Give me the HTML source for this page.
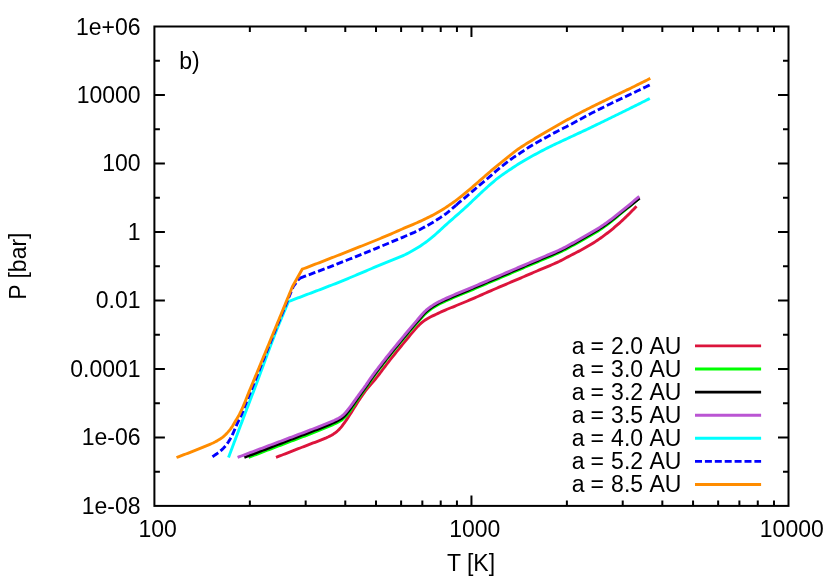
<!DOCTYPE html>
<html><head><meta charset="utf-8"><title>P-T profiles</title>
<style>html,body{margin:0;padding:0;background:#fff;}body{width:830px;height:580px;overflow:hidden;font-family:"Liberation Sans",sans-serif;}</style>
</head><body>
<svg width="830" height="580" viewBox="0 0 830 580" style="display:block;will-change:transform">
<rect x="0" y="0" width="830" height="580" fill="#fff"/>
<path d="M154.4 471.66h5.5M788.5 471.66h-5.5M154.4 437.41h10.5M788.5 437.41h-10.5M154.4 403.17h5.5M788.5 403.17h-5.5M154.4 368.93h10.5M788.5 368.93h-10.5M154.4 334.69h5.5M788.5 334.69h-5.5M154.4 300.44h10.5M788.5 300.44h-10.5M154.4 266.20h5.5M788.5 266.20h-5.5M154.4 231.96h10.5M788.5 231.96h-10.5M154.4 197.71h5.5M788.5 197.71h-5.5M154.4 163.47h10.5M788.5 163.47h-10.5M154.4 129.23h5.5M788.5 129.23h-5.5M154.4 94.99h10.5M788.5 94.99h-10.5M154.4 60.74h5.5M788.5 60.74h-5.5M249.84 505.9v-5.5M249.84 26.5v5.5M305.67 505.9v-5.5M305.67 26.5v5.5M345.28 505.9v-5.5M345.28 26.5v5.5M376.01 505.9v-5.5M376.01 26.5v5.5M401.11 505.9v-5.5M401.11 26.5v5.5M422.34 505.9v-5.5M422.34 26.5v5.5M440.72 505.9v-5.5M440.72 26.5v5.5M456.94 505.9v-5.5M456.94 26.5v5.5M471.45 505.9v-10.5M471.45 26.5v10.5M566.89 505.9v-5.5M566.89 26.5v5.5M622.72 505.9v-5.5M622.72 26.5v5.5M662.33 505.9v-5.5M662.33 26.5v5.5M693.06 505.9v-5.5M693.06 26.5v5.5M718.16 505.9v-5.5M718.16 26.5v5.5M739.39 505.9v-5.5M739.39 26.5v5.5M757.77 505.9v-5.5M757.77 26.5v5.5M773.99 505.9v-5.5M773.99 26.5v5.5" stroke="#000" stroke-width="2.0" fill="none"/>
<path d="M276.00 457.40 L277.86 456.68 L279.72 455.95 L281.58 455.23 L283.44 454.50 L285.29 453.78 L287.15 453.05 L289.01 452.32 L290.87 451.60 L292.73 450.87 L294.58 450.15 L296.44 449.42 L298.30 448.70 L300.16 447.98 L302.02 447.26 L303.88 446.54 L305.74 445.82 L307.60 445.10 L309.47 444.39 L311.33 443.67 L313.20 442.98 L315.07 442.28 L316.94 441.59 L318.80 440.88 L320.65 440.13 L322.51 439.38 L324.35 438.61 L326.19 437.82 L328.00 436.99 L329.78 436.11 L331.55 435.17 L333.28 434.16 L334.93 433.05 L336.50 431.83 L338.00 430.50 L339.43 429.10 L340.77 427.64 L342.02 426.09 L343.22 424.49 L344.39 422.86 L345.54 421.23 L346.67 419.59 L347.78 417.93 L348.87 416.25 L349.95 414.58 L351.02 412.90 L352.08 411.20 L353.13 409.51 L354.18 407.81 L355.24 406.12 L356.30 404.43 L357.37 402.75 L358.45 401.07 L359.54 399.40 L360.64 397.74 L361.76 396.08 L362.89 394.44 L364.04 392.81 L365.22 391.20 L366.44 389.63 L367.70 388.08 L368.97 386.54 L370.25 385.00 L371.55 383.49 L372.87 381.99 L374.17 380.49 L375.45 378.95 L376.70 377.40 L377.93 375.84 L379.16 374.26 L380.37 372.68 L381.57 371.08 L382.77 369.49 L383.97 367.89 L385.17 366.30 L386.37 364.70 L387.58 363.12 L388.80 361.54 L390.03 359.96 L391.27 358.40 L392.51 356.84 L393.75 355.28 L395.00 353.72 L396.25 352.17 L397.50 350.62 L398.76 349.07 L400.02 347.52 L401.28 345.98 L402.55 344.43 L403.81 342.89 L405.08 341.35 L406.35 339.81 L407.62 338.27 L408.89 336.73 L410.16 335.19 L411.43 333.66 L412.72 332.13 L414.03 330.62 L415.35 329.13 L416.68 327.63 L418.02 326.14 L419.40 324.69 L420.84 323.34 L422.37 322.08 L423.98 320.89 L425.64 319.76 L427.33 318.70 L429.05 317.71 L430.82 316.79 L432.63 315.92 L434.43 315.07 L436.23 314.21 L438.04 313.36 L439.85 312.51 L441.66 311.68 L443.48 310.87 L445.31 310.07 L447.14 309.29 L448.99 308.53 L450.84 307.78 L452.69 307.04 L454.54 306.29 L456.39 305.53 L458.23 304.78 L460.08 304.03 L461.93 303.27 L463.77 302.51 L465.61 301.74 L467.45 300.97 L469.29 300.19 L471.12 299.40 L472.95 298.61 L474.78 297.81 L476.61 297.01 L478.43 296.21 L480.25 295.39 L482.07 294.57 L483.89 293.76 L485.72 292.96 L487.55 292.16 L489.38 291.37 L491.21 290.58 L493.04 289.79 L494.88 289.00 L496.71 288.21 L498.54 287.43 L500.37 286.64 L502.21 285.85 L504.04 285.07 L505.88 284.29 L507.72 283.51 L509.55 282.73 L511.39 281.96 L513.23 281.18 L515.06 280.40 L516.90 279.62 L518.74 278.84 L520.57 278.06 L522.40 277.27 L524.24 276.48 L526.07 275.70 L527.90 274.91 L529.73 274.12 L531.57 273.33 L533.40 272.54 L535.23 271.75 L537.06 270.96 L538.90 270.17 L540.73 269.39 L542.57 268.61 L544.41 267.84 L546.26 267.08 L548.10 266.32 L549.94 265.55 L551.78 264.77 L553.61 263.98 L555.44 263.18 L557.25 262.35 L559.05 261.50 L560.83 260.61 L562.61 259.70 L564.38 258.78 L566.14 257.84 L567.90 256.90 L569.67 255.97 L571.44 255.05 L573.21 254.14 L574.99 253.23 L576.76 252.31 L578.53 251.39 L580.30 250.46 L582.05 249.52 L583.80 248.56 L585.55 247.59 L587.28 246.60 L589.00 245.60 L590.71 244.57 L592.41 243.52 L594.09 242.45 L595.77 241.36 L597.43 240.26 L599.08 239.14 L600.72 238.00 L602.34 236.84 L603.95 235.66 L605.55 234.46 L607.13 233.25 L608.71 232.02 L610.27 230.79 L611.82 229.53 L613.36 228.26 L614.88 226.97 L616.40 225.67 L617.90 224.36 L619.40 223.04 L620.88 221.71 L622.35 220.36 L623.81 219.00 L625.26 217.62 L626.69 216.24 L628.12 214.85 L629.55 213.45 L630.96 212.04 L632.35 210.61 L633.73 209.18 L635.12 207.74 L636.50 206.30" stroke="#dc143c" stroke-width="2.9" fill="none" stroke-linejoin="round"/>
<path d="M248.60 457.40 L250.47 456.69 L252.34 455.97 L254.20 455.26 L256.07 454.55 L257.94 453.84 L259.81 453.12 L261.68 452.41 L263.55 451.70 L265.41 450.99 L267.28 450.27 L269.15 449.56 L271.02 448.85 L272.89 448.13 L274.76 447.42 L276.62 446.71 L278.49 446.00 L280.36 445.28 L282.23 444.57 L284.10 443.86 L285.97 443.15 L287.83 442.43 L289.70 441.72 L291.57 441.01 L293.44 440.30 L295.31 439.59 L297.18 438.87 L299.05 438.16 L300.91 437.45 L302.79 436.75 L304.66 436.04 L306.53 435.33 L308.40 434.62 L310.26 433.90 L312.12 433.17 L313.98 432.43 L315.83 431.68 L317.69 430.94 L319.54 430.19 L321.40 429.44 L323.25 428.69 L325.11 427.94 L326.96 427.18 L328.80 426.41 L330.64 425.63 L332.48 424.84 L334.32 424.04 L336.14 423.20 L337.90 422.28 L339.66 421.29 L341.36 420.21 L342.95 419.04 L344.41 417.71 L345.79 416.23 L347.09 414.69 L348.35 413.14 L349.55 411.55 L350.71 409.91 L351.85 408.27 L352.98 406.62 L354.07 404.94 L355.15 403.26 L356.24 401.58 L357.34 399.91 L358.46 398.26 L359.59 396.60 L360.73 394.96 L361.87 393.32 L363.03 391.69 L364.21 390.08 L365.40 388.47 L366.58 386.86 L367.74 385.23 L368.86 383.57 L369.96 381.90 L371.08 380.24 L372.23 378.61 L373.40 376.99 L374.57 375.37 L375.75 373.76 L376.94 372.15 L378.14 370.55 L379.35 368.95 L380.56 367.36 L381.78 365.77 L383.00 364.19 L384.22 362.61 L385.45 361.03 L386.68 359.45 L387.91 357.88 L389.15 356.31 L390.40 354.74 L391.65 353.18 L392.90 351.63 L394.16 350.07 L395.43 348.52 L396.69 346.97 L397.96 345.43 L399.23 343.89 L400.51 342.34 L401.78 340.80 L403.06 339.27 L404.34 337.73 L405.63 336.20 L406.92 334.67 L408.21 333.15 L409.51 331.63 L410.82 330.11 L412.12 328.60 L413.43 327.09 L414.75 325.58 L416.07 324.08 L417.39 322.58 L418.72 321.09 L420.04 319.58 L421.35 318.06 L422.67 316.54 L424.02 315.06 L425.42 313.65 L426.88 312.31 L428.42 311.04 L430.02 309.81 L431.65 308.64 L433.31 307.54 L435.00 306.48 L436.73 305.47 L438.49 304.50 L440.26 303.57 L442.04 302.68 L443.85 301.83 L445.68 301.01 L447.51 300.20 L449.34 299.39 L451.17 298.58 L453.00 297.78 L454.84 296.99 L456.68 296.20 L458.52 295.42 L460.36 294.65 L462.21 293.88 L464.06 293.13 L465.91 292.38 L467.77 291.62 L469.61 290.86 L471.46 290.09 L473.30 289.31 L475.14 288.52 L476.98 287.74 L478.82 286.95 L480.66 286.17 L482.50 285.38 L484.33 284.60 L486.17 283.81 L488.01 283.03 L489.85 282.24 L491.69 281.46 L493.53 280.67 L495.37 279.88 L497.20 279.10 L499.04 278.31 L500.88 277.52 L502.72 276.73 L504.55 275.94 L506.39 275.15 L508.23 274.36 L510.06 273.57 L511.90 272.78 L513.74 271.99 L515.57 271.20 L517.41 270.41 L519.25 269.62 L521.09 268.84 L522.93 268.05 L524.77 267.27 L526.61 266.49 L528.45 265.71 L530.29 264.92 L532.13 264.14 L533.97 263.36 L535.81 262.58 L537.65 261.80 L539.49 261.02 L541.33 260.23 L543.18 259.46 L545.02 258.69 L546.87 257.91 L548.71 257.14 L550.55 256.36 L552.39 255.58 L554.23 254.78 L556.06 253.98 L557.88 253.16 L559.69 252.31 L561.49 251.45 L563.28 250.56 L565.06 249.64 L566.83 248.71 L568.59 247.76 L570.35 246.81 L572.10 245.85 L573.85 244.87 L575.59 243.89 L577.33 242.91 L579.07 241.92 L580.81 240.94 L582.56 239.96 L584.30 238.97 L586.04 237.99 L587.77 236.99 L589.50 235.99 L591.23 234.98 L592.96 233.98 L594.69 232.97 L596.41 231.95 L598.11 230.90 L599.80 229.83 L601.46 228.73 L603.11 227.59 L604.74 226.43 L606.35 225.25 L607.96 224.05 L609.55 222.84 L611.13 221.62 L612.69 220.37 L614.23 219.10 L615.77 217.82 L617.30 216.53 L618.84 215.25 L620.38 213.97 L621.92 212.71 L623.47 211.44 L625.02 210.17 L626.57 208.91 L628.11 207.64 L629.65 206.36 L631.18 205.08 L632.71 203.79 L634.23 202.49 L635.76 201.19 L637.28 199.90 L638.80 198.60" stroke="#00ff00" stroke-width="2.9" fill="none" stroke-linejoin="round"/>
<path d="M244.30 457.40 L246.16 456.69 L248.02 455.97 L249.88 455.25 L251.74 454.54 L253.60 453.82 L255.46 453.11 L257.32 452.39 L259.18 451.68 L261.04 450.96 L262.90 450.24 L264.76 449.53 L266.62 448.81 L268.48 448.10 L270.34 447.38 L272.20 446.66 L274.06 445.95 L275.92 445.23 L277.78 444.52 L279.64 443.80 L281.50 443.09 L283.36 442.37 L285.22 441.66 L287.08 440.94 L288.94 440.23 L290.80 439.52 L292.66 438.81 L294.52 438.09 L296.38 437.38 L298.24 436.67 L300.11 435.96 L301.97 435.25 L303.83 434.55 L305.70 433.84 L307.56 433.13 L309.42 432.42 L311.28 431.71 L313.14 430.99 L315.00 430.27 L316.85 429.54 L318.71 428.81 L320.56 428.08 L322.41 427.34 L324.26 426.59 L326.10 425.84 L327.94 425.07 L329.78 424.30 L331.61 423.51 L333.45 422.73 L335.27 421.91 L337.05 421.03 L338.81 420.08 L340.54 419.05 L342.18 417.93 L343.67 416.66 L345.06 415.22 L346.38 413.70 L347.66 412.18 L348.89 410.61 L350.08 409.00 L351.25 407.39 L352.40 405.77 L353.53 404.12 L354.65 402.47 L355.77 400.83 L356.91 399.19 L358.05 397.56 L359.20 395.93 L360.36 394.31 L361.52 392.69 L362.69 391.07 L363.87 389.47 L365.05 387.86 L366.22 386.25 L367.36 384.61 L368.46 382.96 L369.56 381.29 L370.69 379.65 L371.85 378.03 L373.01 376.41 L374.18 374.80 L375.36 373.20 L376.56 371.60 L377.75 370.00 L378.96 368.42 L380.17 366.83 L381.38 365.25 L382.60 363.67 L383.82 362.10 L385.04 360.52 L386.27 358.95 L387.50 357.39 L388.74 355.83 L389.99 354.27 L391.24 352.72 L392.49 351.17 L393.75 349.63 L395.01 348.08 L396.27 346.54 L397.54 345.00 L398.80 343.46 L400.07 341.92 L401.34 340.38 L402.60 338.84 L403.87 337.30 L405.14 335.77 L406.41 334.23 L407.68 332.70 L408.96 331.17 L410.24 329.65 L411.53 328.13 L412.82 326.61 L414.12 325.10 L415.42 323.59 L416.72 322.08 L418.03 320.58 L419.33 319.06 L420.62 317.53 L421.91 316.00 L423.24 314.50 L424.60 313.06 L426.04 311.71 L427.55 310.42 L429.12 309.17 L430.73 307.99 L432.37 306.85 L434.04 305.77 L435.74 304.74 L437.48 303.75 L439.24 302.80 L441.00 301.89 L442.79 301.02 L444.60 300.19 L446.43 299.37 L448.25 298.57 L450.08 297.77 L451.90 296.96 L453.73 296.17 L455.56 295.38 L457.39 294.60 L459.23 293.82 L461.07 293.05 L462.91 292.30 L464.76 291.55 L466.60 290.80 L468.45 290.04 L470.29 289.28 L472.12 288.51 L473.96 287.73 L475.79 286.94 L477.62 286.16 L479.46 285.38 L481.29 284.60 L483.12 283.82 L484.96 283.03 L486.79 282.25 L488.62 281.47 L490.45 280.69 L492.29 279.90 L494.12 279.12 L495.95 278.33 L497.78 277.55 L499.61 276.77 L501.45 275.98 L503.28 275.19 L505.11 274.41 L506.94 273.62 L508.77 272.83 L510.60 272.04 L512.43 271.25 L514.26 270.46 L516.09 269.68 L517.92 268.89 L519.75 268.11 L521.58 267.32 L523.42 266.54 L525.25 265.76 L527.09 264.98 L528.92 264.21 L530.75 263.43 L532.59 262.65 L534.42 261.87 L536.26 261.09 L538.09 260.31 L539.92 259.53 L541.76 258.75 L543.60 257.98 L545.44 257.21 L547.28 256.44 L549.11 255.67 L550.95 254.90 L552.78 254.11 L554.61 253.32 L556.43 252.51 L558.24 251.69 L560.05 250.84 L561.84 249.98 L563.62 249.08 L565.39 248.17 L567.16 247.24 L568.91 246.29 L570.66 245.34 L572.41 244.38 L574.15 243.41 L575.88 242.43 L577.62 241.45 L579.35 240.47 L581.09 239.49 L582.82 238.51 L584.56 237.53 L586.29 236.54 L588.02 235.55 L589.74 234.55 L591.46 233.55 L593.19 232.54 L594.91 231.53 L596.62 230.51 L598.32 229.47 L600.00 228.40 L601.66 227.31 L603.31 226.19 L604.95 225.06 L606.58 223.90 L608.19 222.73 L609.80 221.55 L611.39 220.35 L612.96 219.13 L614.52 217.89 L616.07 216.63 L617.62 215.38 L619.17 214.13 L620.74 212.90 L622.30 211.67 L623.87 210.44 L625.44 209.21 L627.01 207.98 L628.59 206.76 L630.16 205.53 L631.73 204.31 L633.30 203.09 L634.88 201.86 L636.45 200.64 L638.03 199.42 L639.60 198.20" stroke="#000000" stroke-width="2.9" fill="none" stroke-linejoin="round"/>
<path d="M237.60 457.40 L239.47 456.70 L241.33 455.99 L243.20 455.29 L245.07 454.59 L246.94 453.89 L248.80 453.18 L250.67 452.48 L252.54 451.78 L254.41 451.08 L256.27 450.38 L258.14 449.67 L260.01 448.97 L261.88 448.27 L263.74 447.57 L265.61 446.87 L267.48 446.16 L269.35 445.46 L271.21 444.76 L273.08 444.06 L274.95 443.35 L276.81 442.65 L278.68 441.95 L280.55 441.24 L282.42 440.54 L284.28 439.84 L286.15 439.13 L288.02 438.43 L289.88 437.73 L291.75 437.02 L293.61 436.32 L295.48 435.61 L297.35 434.90 L299.21 434.20 L301.08 433.49 L302.94 432.79 L304.81 432.08 L306.68 431.37 L308.54 430.66 L310.40 429.95 L312.26 429.23 L314.12 428.50 L315.98 427.78 L317.84 427.05 L319.70 426.32 L321.55 425.59 L323.41 424.86 L325.27 424.14 L327.12 423.40 L328.97 422.64 L330.80 421.86 L332.64 421.06 L334.46 420.25 L336.26 419.38 L338.02 418.46 L339.78 417.48 L341.46 416.40 L342.99 415.17 L344.41 413.75 L345.76 412.27 L347.07 410.76 L348.31 409.20 L349.53 407.62 L350.73 406.02 L351.91 404.41 L353.06 402.79 L354.21 401.16 L355.38 399.53 L356.55 397.92 L357.72 396.31 L358.90 394.69 L360.07 393.08 L361.25 391.47 L362.44 389.87 L363.62 388.26 L364.79 386.64 L365.94 385.01 L367.05 383.36 L368.15 381.69 L369.27 380.04 L370.42 378.41 L371.58 376.79 L372.76 375.18 L373.94 373.57 L375.13 371.97 L376.33 370.37 L377.53 368.78 L378.74 367.19 L379.95 365.61 L381.17 364.03 L382.39 362.45 L383.62 360.88 L384.84 359.30 L386.08 357.74 L387.32 356.17 L388.56 354.61 L389.81 353.06 L391.07 351.51 L392.33 349.96 L393.59 348.42 L394.85 346.87 L396.12 345.33 L397.39 343.79 L398.65 342.25 L399.92 340.71 L401.19 339.16 L402.45 337.62 L403.72 336.08 L404.99 334.54 L406.27 333.01 L407.54 331.48 L408.82 329.95 L410.11 328.42 L411.40 326.90 L412.69 325.37 L413.98 323.85 L415.28 322.34 L416.58 320.83 L417.89 319.32 L419.17 317.78 L420.46 316.24 L421.76 314.71 L423.09 313.23 L424.47 311.81 L425.92 310.47 L427.44 309.17 L429.02 307.93 L430.63 306.74 L432.27 305.62 L433.95 304.55 L435.67 303.54 L437.42 302.56 L439.18 301.62 L440.96 300.72 L442.75 299.85 L444.56 299.01 L446.39 298.20 L448.21 297.39 L450.04 296.58 L451.86 295.78 L453.69 294.98 L455.53 294.19 L457.36 293.41 L459.20 292.64 L461.04 291.87 L462.89 291.11 L464.73 290.36 L466.58 289.60 L468.43 288.85 L470.27 288.09 L472.11 287.31 L473.95 286.53 L475.78 285.75 L477.62 284.96 L479.45 284.18 L481.29 283.40 L483.12 282.62 L484.96 281.83 L486.79 281.05 L488.63 280.27 L490.46 279.48 L492.30 278.70 L494.13 277.91 L495.96 277.13 L497.80 276.34 L499.63 275.56 L501.47 274.77 L503.30 273.98 L505.13 273.20 L506.96 272.41 L508.80 271.62 L510.63 270.83 L512.46 270.04 L514.29 269.25 L516.13 268.46 L517.96 267.67 L519.79 266.89 L521.63 266.11 L523.46 265.32 L525.30 264.54 L527.14 263.76 L528.97 262.98 L530.81 262.20 L532.65 261.43 L534.48 260.65 L536.32 259.87 L538.15 259.09 L539.99 258.30 L541.83 257.53 L543.67 256.75 L545.51 255.98 L547.35 255.21 L549.19 254.44 L551.03 253.66 L552.86 252.88 L554.69 252.08 L556.51 251.27 L558.33 250.45 L560.13 249.60 L561.93 248.73 L563.71 247.84 L565.49 246.92 L567.25 245.99 L569.00 245.04 L570.76 244.09 L572.50 243.12 L574.25 242.15 L575.98 241.17 L577.72 240.19 L579.46 239.21 L581.19 238.23 L582.93 237.24 L584.67 236.26 L586.40 235.28 L588.13 234.28 L589.86 233.28 L591.58 232.28 L593.31 231.27 L595.03 230.26 L596.74 229.23 L598.44 228.19 L600.12 227.12 L601.79 226.03 L603.44 224.91 L605.08 223.77 L606.71 222.61 L608.32 221.44 L609.93 220.25 L611.51 219.05 L613.08 217.82 L614.63 216.56 L616.18 215.30 L617.73 214.04 L619.28 212.78 L620.83 211.53 L622.40 210.29 L623.96 209.05 L625.52 207.81 L627.08 206.57 L628.64 205.32 L630.18 204.05 L631.71 202.78 L633.23 201.49 L634.75 200.19 L636.27 198.89 L637.78 197.59 L639.30 196.30" stroke="#ba55d3" stroke-width="2.9" fill="none" stroke-linejoin="round"/>
<path d="M228.50 457.50 L229.20 455.64 L229.90 453.78 L230.60 451.91 L231.31 450.05 L232.01 448.19 L232.71 446.33 L233.41 444.46 L234.11 442.60 L234.81 440.74 L235.51 438.88 L236.21 437.01 L236.91 435.15 L237.61 433.29 L238.31 431.43 L239.02 429.56 L239.72 427.70 L240.42 425.84 L241.12 423.98 L241.83 422.12 L242.53 420.26 L243.23 418.39 L243.94 416.53 L244.64 414.67 L245.35 412.81 L246.06 410.95 L246.77 409.09 L247.48 407.23 L248.19 405.38 L248.90 403.52 L249.61 401.66 L250.32 399.80 L251.03 397.94 L251.74 396.08 L252.45 394.22 L253.16 392.36 L253.87 390.50 L254.58 388.64 L255.28 386.78 L255.99 384.92 L256.69 383.06 L257.38 381.20 L258.08 379.33 L258.77 377.47 L259.46 375.60 L260.15 373.73 L260.84 371.86 L261.53 370.00 L262.22 368.13 L262.91 366.26 L263.60 364.39 L264.28 362.53 L264.97 360.66 L265.66 358.79 L266.35 356.92 L267.04 355.06 L267.73 353.19 L268.43 351.33 L269.12 349.46 L269.82 347.60 L270.52 345.74 L271.22 343.87 L271.93 342.01 L272.64 340.16 L273.35 338.30 L274.07 336.44 L274.79 334.59 L275.52 332.74 L276.25 330.89 L276.98 329.04 L277.73 327.19 L278.48 325.35 L279.23 323.51 L279.99 321.67 L280.76 319.84 L281.53 318.00 L282.30 316.17 L283.08 314.33 L283.85 312.50 L284.63 310.67 L285.41 308.84 L286.19 307.00 L286.96 305.17 L287.73 303.34 L288.50 301.50 L290.36 300.79 L292.22 300.08 L294.08 299.38 L295.95 298.67 L297.81 297.97 L299.67 297.27 L301.54 296.57 L303.40 295.87 L305.26 295.16 L307.13 294.46 L308.99 293.76 L310.85 293.06 L312.72 292.36 L314.58 291.65 L316.44 290.95 L318.30 290.24 L320.17 289.54 L322.03 288.83 L323.89 288.11 L325.74 287.40 L327.60 286.68 L329.46 285.96 L331.31 285.24 L333.17 284.51 L335.02 283.78 L336.87 283.05 L338.72 282.31 L340.56 281.57 L342.41 280.82 L344.25 280.07 L346.09 279.31 L347.93 278.55 L349.77 277.78 L351.61 277.02 L353.44 276.25 L355.28 275.48 L357.12 274.71 L358.95 273.94 L360.79 273.17 L362.62 272.39 L364.46 271.61 L366.29 270.83 L368.12 270.04 L369.94 269.25 L371.77 268.47 L373.60 267.68 L375.43 266.89 L377.26 266.11 L379.10 265.34 L380.93 264.57 L382.77 263.81 L384.62 263.06 L386.46 262.32 L388.32 261.60 L390.18 260.89 L392.04 260.17 L393.89 259.45 L395.74 258.70 L397.58 257.94 L399.42 257.18 L401.26 256.40 L403.08 255.59 L404.88 254.76 L406.67 253.88 L408.44 252.97 L410.20 252.03 L411.94 251.07 L413.67 250.08 L415.39 249.07 L417.09 248.04 L418.78 246.99 L420.46 245.91 L422.12 244.81 L423.76 243.68 L425.38 242.53 L426.97 241.34 L428.55 240.12 L430.11 238.88 L431.65 237.62 L433.18 236.34 L434.70 235.05 L436.21 233.75 L437.69 232.43 L439.16 231.09 L440.62 229.73 L442.08 228.38 L443.55 227.02 L445.02 225.68 L446.50 224.35 L447.98 223.03 L449.47 221.70 L450.96 220.38 L452.45 219.06 L453.94 217.74 L455.43 216.42 L456.93 215.11 L458.43 213.80 L459.93 212.49 L461.43 211.18 L462.93 209.87 L464.41 208.54 L465.88 207.19 L467.33 205.83 L468.77 204.46 L470.21 203.08 L471.64 201.70 L473.08 200.32 L474.52 198.95 L475.97 197.59 L477.43 196.22 L478.88 194.86 L480.33 193.50 L481.79 192.14 L483.25 190.79 L484.72 189.45 L486.20 188.11 L487.68 186.78 L489.17 185.46 L490.66 184.14 L492.16 182.83 L493.68 181.53 L495.20 180.25 L496.74 178.99 L498.30 177.77 L499.90 176.58 L501.52 175.42 L503.15 174.28 L504.79 173.14 L506.43 172.01 L508.08 170.90 L509.73 169.79 L511.39 168.68 L513.05 167.58 L514.71 166.49 L516.38 165.39 L518.04 164.31 L519.72 163.24 L521.41 162.19 L523.12 161.15 L524.83 160.13 L526.55 159.13 L528.28 158.14 L530.02 157.18 L531.77 156.24 L533.53 155.31 L535.29 154.38 L537.05 153.44 L538.80 152.49 L540.55 151.54 L542.31 150.60 L544.07 149.68 L545.84 148.77 L547.62 147.88 L549.41 147.00 L551.20 146.13 L552.99 145.26 L554.79 144.40 L556.58 143.54 L558.38 142.69 L560.19 141.85 L561.99 141.00 L563.79 140.16 L565.60 139.32 L567.40 138.48 L569.21 137.64 L571.01 136.79 L572.82 135.96 L574.62 135.12 L576.43 134.28 L578.24 133.44 L580.04 132.60 L581.85 131.76 L583.65 130.92 L585.45 130.08 L587.26 129.23 L589.05 128.37 L590.85 127.52 L592.65 126.65 L594.44 125.79 L596.23 124.92 L598.02 124.05 L599.81 123.18 L601.60 122.31 L603.39 121.43 L605.18 120.56 L606.97 119.68 L608.76 118.81 L610.54 117.93 L612.33 117.06 L614.12 116.19 L615.91 115.31 L617.70 114.44 L619.49 113.57 L621.28 112.69 L623.07 111.82 L624.85 110.94 L626.64 110.06 L628.43 109.18 L630.21 108.30 L631.99 107.41 L633.78 106.52 L635.56 105.63 L637.34 104.74 L639.12 103.85 L640.90 102.96 L642.68 102.07 L644.46 101.18 L646.24 100.28 L648.02 99.39 L649.80 98.50" stroke="#00ffff" stroke-width="2.9" fill="none" stroke-linejoin="round"/>
<path d="M212.50 456.80 L214.11 455.64 L215.75 454.50 L217.38 453.35 L218.98 452.17 L220.51 450.93 L221.96 449.61 L223.38 448.21 L224.75 446.75 L226.04 445.23 L227.24 443.67 L228.36 442.04 L229.41 440.35 L230.40 438.61 L231.33 436.87 L232.21 435.09 L233.04 433.29 L233.85 431.47 L234.65 429.66 L235.43 427.83 L236.19 426.00 L236.97 424.18 L237.80 422.37 L238.69 420.60 L239.61 418.84 L240.50 417.07 L241.32 415.27 L242.07 413.43 L242.78 411.58 L243.48 409.72 L244.17 407.86 L244.89 406.01 L245.62 404.17 L246.36 402.32 L247.09 400.48 L247.83 398.64 L248.57 396.80 L249.31 394.96 L250.05 393.12 L250.79 391.28 L251.52 389.44 L252.26 387.59 L253.00 385.75 L253.74 383.91 L254.47 382.07 L255.21 380.23 L255.95 378.39 L256.69 376.54 L257.42 374.70 L258.16 372.86 L258.90 371.02 L259.63 369.18 L260.37 367.33 L261.11 365.49 L261.84 363.65 L262.58 361.81 L263.32 359.97 L264.06 358.13 L264.79 356.28 L265.53 354.44 L266.27 352.60 L267.01 350.76 L267.75 348.92 L268.49 347.08 L269.23 345.24 L269.97 343.40 L270.72 341.56 L271.46 339.72 L272.20 337.88 L272.95 336.04 L273.69 334.21 L274.44 332.37 L275.18 330.53 L275.93 328.69 L276.68 326.85 L277.43 325.02 L278.18 323.18 L278.93 321.35 L279.69 319.51 L280.44 317.68 L281.20 315.84 L281.95 314.01 L282.71 312.17 L283.46 310.34 L284.22 308.51 L284.98 306.67 L285.73 304.84 L286.49 303.00 L287.25 301.17 L288.00 299.34 L288.76 297.50 L289.52 295.67 L290.28 293.84 L291.03 292.00 L291.79 290.17 L292.54 288.33 L293.30 286.50 L299.50 278.30" stroke="#0000ff" stroke-width="2.9" fill="none" stroke-linejoin="round" stroke-dasharray="7.000 2.900"/>
<path d="M299.50 278.30 L301.37 277.60 L303.23 276.90 L305.10 276.20 L306.97 275.50 L308.84 274.80 L310.70 274.10 L312.57 273.41 L314.44 272.71 L316.31 272.01 L318.17 271.31 L320.04 270.60 L321.91 269.90 L323.77 269.19 L325.63 268.48 L327.49 267.77 L329.35 267.05 L331.21 266.33 L333.07 265.61 L334.93 264.88 L336.79 264.15 L338.64 263.43 L340.50 262.70 L342.35 261.96 L344.21 261.23 L346.06 260.50 L347.91 259.76 L349.77 259.02 L351.62 258.28 L353.47 257.54 L355.32 256.80 L357.17 256.05 L359.02 255.31 L360.87 254.56 L362.72 253.82 L364.57 253.07 L366.41 252.32 L368.26 251.56 L370.11 250.81 L371.95 250.06 L373.80 249.30 L375.65 248.55 L377.49 247.79 L379.33 247.03 L381.18 246.28 L383.02 245.52 L384.87 244.76 L386.71 243.99 L388.55 243.22 L390.38 242.45 L392.22 241.67 L394.06 240.90 L395.90 240.12 L397.74 239.35 L399.58 238.58 L401.41 237.81 L403.25 237.04 L405.09 236.26 L406.93 235.49 L408.77 234.72 L410.61 233.95 L412.44 233.16 L414.26 232.35 L416.06 231.49 L417.84 230.61 L419.62 229.70 L421.38 228.76 L423.14 227.82 L424.89 226.86 L426.63 225.90 L428.37 224.92 L430.10 223.93 L431.83 222.92 L433.54 221.89 L435.24 220.85 L436.93 219.80 L438.62 218.73 L440.29 217.65 L441.95 216.54 L443.59 215.41 L445.21 214.25 L446.80 213.05 L448.36 211.81 L449.91 210.54 L451.44 209.26 L452.96 207.98 L454.47 206.67 L455.96 205.34" stroke="#0000ff" stroke-width="2.9" fill="none" stroke-linejoin="round" stroke-dasharray="7.000 2.900"/>
<path d="M455.96 205.34 L457.45 204.02 L458.95 202.71 L460.47 201.42 L462.00 200.14 L463.54 198.87 L465.07 197.59 L466.59 196.30 L468.11 195.01 L469.62 193.71 L471.13 192.41 L472.64 191.11 L474.15 189.81 L475.66 188.51 L477.18 187.21 L478.70 185.91 L480.22 184.62 L481.74 183.34 L483.28 182.07 L484.82 180.80 L486.36 179.54 L487.89 178.26 L489.41 176.97 L490.92 175.66 L492.40 174.33 L493.88 172.99 L495.37 171.66 L496.86 170.34 L498.38 169.05 L499.92 167.79 L501.48 166.54 L503.05 165.31 L504.62 164.09 L506.20 162.87 L507.79 161.66 L509.38 160.45 L510.98 159.26 L512.59 158.09 L514.22 156.94 L515.87 155.83 L517.54 154.74 L519.22 153.66 L520.90 152.59 L522.57 151.49 L524.23 150.39 L525.88 149.27 L527.54 148.16 L529.21 147.07 L530.89 146.00 L532.59 144.96 L534.31 143.95 L536.04 142.96 L537.77 141.98 L539.52 141.02 L541.27 140.06 L543.02 139.10 L544.76 138.13 L546.51 137.16 L548.25 136.19 L549.99 135.22 L551.74 134.26 L553.49 133.31 L555.25 132.37 L557.01 131.44 L558.78 130.53 L560.56 129.62 L562.34 128.72 L564.12 127.82 L565.90 126.92 L567.67 126.01 L569.44 125.09 L571.21 124.16 L572.97 123.22 L574.72 122.27 L576.47 121.32 L578.22 120.36 L579.97 119.40 L581.72 118.44 L583.47 117.49 L585.22 116.54 L586.98 115.59 L588.74 114.66 L590.51 113.74 L592.28 112.82 L594.05 111.92 L595.83 111.01 L597.61 110.11 L599.40 109.22 L601.18 108.33 L602.97 107.45 L604.76 106.57 L606.55 105.69 L608.34 104.81 L610.13 103.94 L611.92 103.07 L613.72 102.20 L615.52 101.35 L617.32 100.49 L619.13 99.64 L620.93 98.79 L622.73 97.94 L624.54 97.09 L626.34 96.24 L628.14 95.39 L629.94 94.53 L631.74 93.67 L633.54 92.80 L635.34 91.94 L637.13 91.07 L638.93 90.20 L640.72 89.34 L642.52 88.47 L644.31 87.60 L646.11 86.73 L647.90 85.87 L649.70 85.00" stroke="#0000ff" stroke-width="2.9" fill="none" stroke-linejoin="round" stroke-dasharray="7.141 2.958"/>
<path d="M176.50 457.50 L178.37 456.80 L180.24 456.10 L182.11 455.40 L183.97 454.70 L185.84 453.99 L187.71 453.28 L189.57 452.57 L191.43 451.84 L193.29 451.12 L195.15 450.39 L197.00 449.66 L198.86 448.92 L200.71 448.17 L202.56 447.42 L204.40 446.65 L206.24 445.88 L208.09 445.11 L209.93 444.34 L211.76 443.54 L213.57 442.70 L215.35 441.82 L217.10 440.86 L218.82 439.84 L220.51 438.77 L222.16 437.64 L223.71 436.41 L225.18 435.05 L226.58 433.62 L227.92 432.14 L229.22 430.62 L230.46 429.05 L231.62 427.44 L232.71 425.77 L233.74 424.07 L234.75 422.33 L235.75 420.60 L236.77 418.88 L237.79 417.16 L238.80 415.44 L239.75 413.69 L240.64 411.91 L241.49 410.12 L242.31 408.31 L243.11 406.48 L243.90 404.65 L244.66 402.80 L245.41 400.95 L246.16 399.09 L246.89 397.23 L247.63 395.37 L248.37 393.51 L249.11 391.65 L249.86 389.80 L250.62 387.95 L251.39 386.11 L252.16 384.27 L252.92 382.43 L253.69 380.59 L254.46 378.74 L255.22 376.90 L255.99 375.06 L256.75 373.22 L257.52 371.37 L258.28 369.53 L259.04 367.68 L259.81 365.84 L260.57 364.00 L261.33 362.15 L262.10 360.31 L262.86 358.46 L263.62 356.62 L264.38 354.77 L265.14 352.93 L265.90 351.09 L266.67 349.24 L267.43 347.40 L268.19 345.55 L268.95 343.71 L269.71 341.86 L270.47 340.02 L271.23 338.17 L271.99 336.33 L272.75 334.48 L273.51 332.64 L274.27 330.79 L275.03 328.95 L275.80 327.10 L276.56 325.26 L277.32 323.41 L278.08 321.57 L278.84 319.72 L279.60 317.88 L280.36 316.03 L281.11 314.18 L281.87 312.34 L282.63 310.49 L283.39 308.65 L284.15 306.80 L284.91 304.96 L285.67 303.11 L286.43 301.27 L287.19 299.42 L287.95 297.57 L288.70 295.73 L289.46 293.88 L290.22 292.04 L290.98 290.19 L291.74 288.35 L292.50 286.50 L302.20 269.20 L304.06 268.48 L305.93 267.77 L307.79 267.05 L309.66 266.34 L311.53 265.62 L313.39 264.91 L315.26 264.20 L317.12 263.48 L318.99 262.77 L320.85 262.05 L322.72 261.33 L324.58 260.61 L326.44 259.89 L328.30 259.16 L330.16 258.44 L332.02 257.71 L333.88 256.98 L335.74 256.25 L337.60 255.52 L339.46 254.79 L341.32 254.06 L343.18 253.33 L345.04 252.60 L346.90 251.87 L348.76 251.14 L350.62 250.41 L352.48 249.67 L354.33 248.94 L356.19 248.20 L358.05 247.46 L359.90 246.72 L361.76 245.98 L363.61 245.24 L365.47 244.50 L367.32 243.75 L369.17 243.00 L371.02 242.25 L372.87 241.50 L374.72 240.75 L376.57 239.99 L378.42 239.23 L380.27 238.47 L382.11 237.70 L383.95 236.94 L385.80 236.17 L387.64 235.39 L389.47 234.60 L391.31 233.81 L393.14 233.01 L394.97 232.21 L396.80 231.41 L398.63 230.60 L400.45 229.79 L402.28 228.99 L404.11 228.19 L405.94 227.40 L407.79 226.63 L409.63 225.86 L411.48 225.10 L413.32 224.33 L415.15 223.53 L416.98 222.72 L418.80 221.91 L420.63 221.09 L422.44 220.25 L424.25 219.41 L426.06 218.55 L427.85 217.67 L429.64 216.78 L431.41 215.87 L433.18 214.94 L434.94 213.99 L436.69 213.02 L438.42 212.02 L440.14 211.01 L441.85 209.98 L443.55 208.93 L445.24 207.86 L446.91 206.77 L448.58 205.66 L450.23 204.54 L451.87 203.41 L453.50 202.25 L455.12 201.08 L456.73 199.89 L458.33 198.69 L459.91 197.47 L461.48 196.24 L463.03 194.98 L464.57 193.70 L466.09 192.42 L467.62 191.12 L469.14 189.83 L470.66 188.54 L472.18 187.24 L473.69 185.93 L475.20 184.62 L476.70 183.31 L478.21 181.99 L479.71 180.68 L481.22 179.37 L482.73 178.06 L484.23 176.74 L485.74 175.43 L487.25 174.12 L488.76 172.81 L490.28 171.51 L491.80 170.23 L493.33 168.94 L494.87 167.67 L496.41 166.40 L497.96 165.13 L499.50 163.86 L501.05 162.60 L502.59 161.33 L504.13 160.05 L505.67 158.78 L507.21 157.52 L508.77 156.26 L510.34 155.03 L511.92 153.81 L513.50 152.59 L515.10 151.39 L516.71 150.20 L518.33 149.04 L519.97 147.89 L521.62 146.77 L523.29 145.68 L524.97 144.60 L526.67 143.54 L528.36 142.48 L530.07 141.44 L531.77 140.40 L533.49 139.39 L535.21 138.37 L536.93 137.34 L538.64 136.31 L540.35 135.28 L542.06 134.25 L543.77 133.22 L545.49 132.21 L547.22 131.21 L548.96 130.22 L550.70 129.24 L552.44 128.25 L554.17 127.27 L555.91 126.28 L557.65 125.29 L559.38 124.30 L561.11 123.30 L562.85 122.31 L564.58 121.32 L566.32 120.34 L568.06 119.37 L569.81 118.40 L571.57 117.45 L573.32 116.50 L575.08 115.55 L576.85 114.61 L578.61 113.68 L580.38 112.75 L582.15 111.83 L583.93 110.91 L585.70 109.99 L587.48 109.08 L589.26 108.17 L591.04 107.27 L592.83 106.38 L594.62 105.49 L596.41 104.60 L598.20 103.72 L599.99 102.84 L601.79 101.97 L603.59 101.10 L605.39 100.23 L607.19 99.36 L608.98 98.49 L610.78 97.62 L612.59 96.76 L614.39 95.90 L616.20 95.05 L618.00 94.20 L619.81 93.35 L621.62 92.50 L623.42 91.65 L625.23 90.79 L627.03 89.93 L628.83 89.07 L630.63 88.19 L632.42 87.32 L634.22 86.43 L636.01 85.55 L637.79 84.66 L639.58 83.76 L641.37 82.87 L643.15 81.97 L644.94 81.08 L646.73 80.18 L648.51 79.29 L650.30 78.40" stroke="#ff8c00" stroke-width="2.9" fill="none" stroke-linejoin="round"/>
<rect x="154.4" y="26.5" width="634.10" height="479.40" fill="none" stroke="#000" stroke-width="2.0"/>
<g font-family="Liberation Sans, sans-serif" font-size="23" fill="#000">
<text x="140.6" y="34.50" text-anchor="end">1e+06</text>
<text x="140.6" y="102.99" text-anchor="end">10000</text>
<text x="140.6" y="171.47" text-anchor="end">100</text>
<text x="140.6" y="239.96" text-anchor="end">1</text>
<text x="140.6" y="308.44" text-anchor="end">0.01</text>
<text x="140.6" y="376.93" text-anchor="end">0.0001</text>
<text x="140.6" y="445.41" text-anchor="end">1e-06</text>
<text x="140.6" y="513.90" text-anchor="end">1e-08</text>
<text x="157.70" y="537" text-anchor="middle">100</text>
<text x="474.75" y="537" text-anchor="middle">1000</text>
<text x="791.80" y="537" text-anchor="middle">10000</text>
<text x="471" y="571" text-anchor="middle">T [K]</text>
<text transform="translate(26,266.2) rotate(-90)" text-anchor="middle">P [bar]</text>
<text x="179.3" y="68.5">b)</text>
<text y="353.70"><tspan x="571.7">a</tspan><tspan x="590.5">=</tspan><tspan x="611.1">2.0</tspan><tspan x="649.4">AU</tspan></text>
<text y="376.80"><tspan x="571.7">a</tspan><tspan x="590.5">=</tspan><tspan x="611.1">3.0</tspan><tspan x="649.4">AU</tspan></text>
<text y="399.90"><tspan x="571.7">a</tspan><tspan x="590.5">=</tspan><tspan x="611.1">3.2</tspan><tspan x="649.4">AU</tspan></text>
<text y="423.00"><tspan x="571.7">a</tspan><tspan x="590.5">=</tspan><tspan x="611.1">3.5</tspan><tspan x="649.4">AU</tspan></text>
<text y="446.10"><tspan x="571.7">a</tspan><tspan x="590.5">=</tspan><tspan x="611.1">4.0</tspan><tspan x="649.4">AU</tspan></text>
<text y="469.20"><tspan x="571.7">a</tspan><tspan x="590.5">=</tspan><tspan x="611.1">5.2</tspan><tspan x="649.4">AU</tspan></text>
<text y="492.30"><tspan x="571.7">a</tspan><tspan x="590.5">=</tspan><tspan x="611.1">8.5</tspan><tspan x="649.4">AU</tspan></text>
</g>
<path d="M695 345.90H761.1" stroke="#dc143c" stroke-width="2.9" fill="none"/>
<path d="M695 369.00H761.1" stroke="#00ff00" stroke-width="2.9" fill="none"/>
<path d="M695 392.10H761.1" stroke="#000000" stroke-width="2.9" fill="none"/>
<path d="M695 415.20H761.1" stroke="#ba55d3" stroke-width="2.9" fill="none"/>
<path d="M695 438.30H761.1" stroke="#00ffff" stroke-width="2.9" fill="none"/>
<path d="M695 461.40H761.1" stroke="#0000ff" stroke-width="2.9" fill="none" stroke-dasharray="7 2.9"/>
<path d="M695 484.50H761.1" stroke="#ff8c00" stroke-width="2.9" fill="none"/>
</svg>
</body></html>
